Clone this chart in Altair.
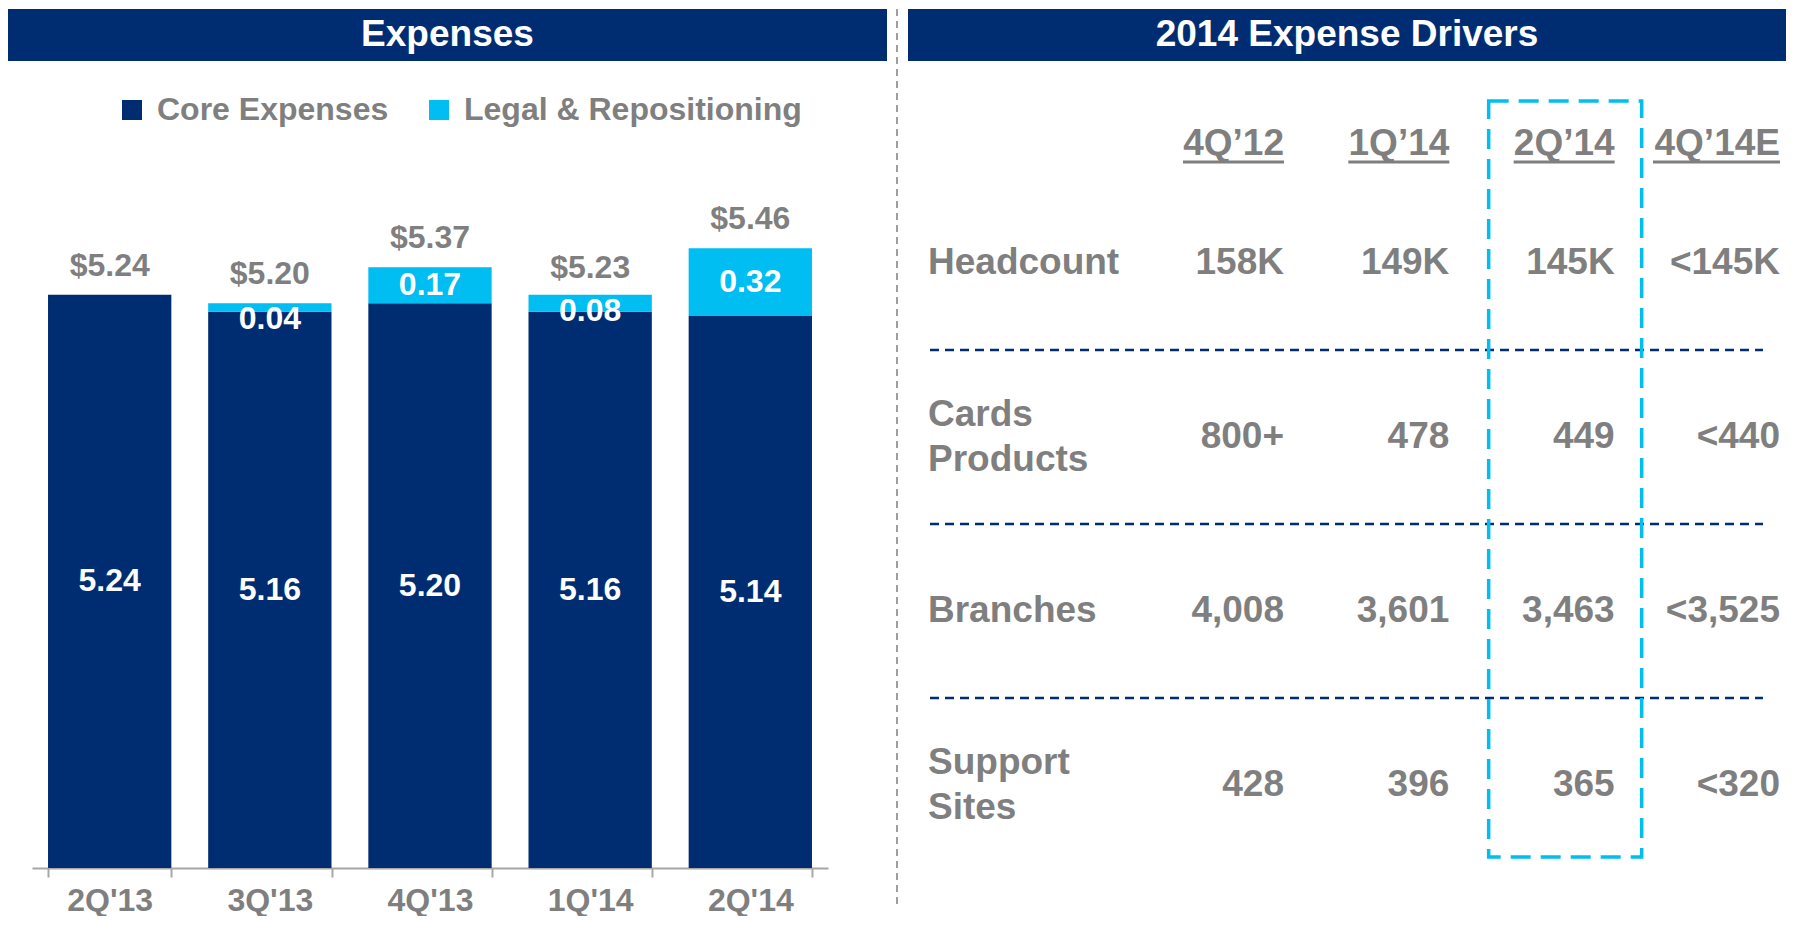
import altair as alt
import pandas as pd

# ---------------- data ----------------
quarters = ["2Q'13", "3Q'13", "4Q'13", "1Q'14", "2Q'14"]
core = [5.24, 5.16, 5.20, 5.16, 5.14]
legal = [0.00, 0.04, 0.17, 0.08, 0.32]
totals = [5.24, 5.20, 5.37, 5.23, 5.46]
series_names = ["Core Expenses", "Legal & Repositioning"]

table_cols = ["4Q’12", "1Q’14", "2Q’14", "4Q’14E"]
table_rows = ["Headcount", "Cards\nProducts", "Branches", "Support\nSites"]
headcount = ["158K", "149K", "145K", "<145K"]
cards = ["800+", "478", "449", "<440"]
branches = ["4,008", "3,601", "3,463", "<3,525"]
sites = ["428", "396", "365", "<320"]
highlight_col = "2Q’14"

left_title = "Expenses"
right_title = "2014 Expense Drivers"

# ---------------- style ----------------
NAVY = "#002D72"
LIGHT = "#00BDF2"
GRAY = "#7F7F7F"
AXGRAY = "#A6A6A6"
FONT = "Liberation Sans, Arial, sans-serif"
Y_MIN, Y_MAX = 2.536, 6.588
PLOT_H = 859
PX_PER_UNIT = PLOT_H / (Y_MAX - Y_MIN)
LBL_MIN_GAP = 16 / PX_PER_UNIT  # keep small-segment labels below the segment top

# ---------------- left: stacked bars ----------------
bar_rows = []
for q, c, l in zip(quarters, core, legal):
    bar_rows.append({"quarter": q, "series": series_names[0], "value": c, "start": 0.0, "end": c})
    bar_rows.append({"quarter": q, "series": series_names[1], "value": l, "start": c, "end": c + l})
bars_df = pd.DataFrame(bar_rows)
tot_df = pd.DataFrame({"quarter": quarters, "total": totals})
ltitle_df = pd.DataFrame({"t": [left_title]})

X = alt.X(
    "quarter:N",
    sort=quarters,
    scale=alt.Scale(domain=quarters, paddingInner=0.23, paddingOuter=0.1),
    axis=alt.Axis(
        title=None, labelAngle=0, labelFont=FONT, labelFontSize=32, labelFontWeight="bold",
        labelColor=GRAY, domainColor=AXGRAY, domainWidth=2, tickColor=AXGRAY, tickWidth=2,
        tickSize=9, tickBand="extent", labelPadding=8, grid=False,
    ),
)
YS = alt.Scale(domain=[Y_MIN, Y_MAX], zero=False, nice=False, clamp=True)

bars = alt.Chart(bars_df).mark_bar().encode(
    x=X,
    y=alt.Y("end:Q", scale=YS, axis=None),
    y2="start:Q",
    color=alt.Color(
        "series:N",
        scale=alt.Scale(domain=series_names, range=[NAVY, LIGHT]),
        legend=alt.Legend(
            title=None, orient="none", legendX=84, legendY=85, direction="horizontal",
            symbolType="square", symbolSize=400, symbolStrokeWidth=0,
            labelFont=FONT, labelFontSize=32, labelFontWeight="bold", labelColor=GRAY,
            labelOffset=9, columnPadding=34, labelLimit=0,
        ),
    ),
)

core_lbl = alt.Chart(bars_df).transform_filter(
    alt.datum.series == series_names[0]
).transform_calculate(
    mid=f"({Y_MIN} + datum.end) / 2"
).mark_text(font=FONT, fontSize=32, fontWeight="bold", color="white", baseline="middle").encode(
    x=X, y=alt.Y("mid:Q", scale=YS, axis=None), text=alt.Text("value:Q", format=".2f")
)

legal_lbl = alt.Chart(bars_df).transform_filter(
    (alt.datum.series == series_names[1]) & (alt.datum.value > 0)
).transform_calculate(
    mid=f"min((datum.start + datum.end) / 2, datum.end - {LBL_MIN_GAP})"
).mark_text(font=FONT, fontSize=32, fontWeight="bold", color="white", baseline="middle").encode(
    x=X, y=alt.Y("mid:Q", scale=YS, axis=None), text=alt.Text("value:Q", format=".2f")
)

tot_lbl = alt.Chart(tot_df).transform_calculate(
    lbl="'$' + format(datum.total, '.2f')"
).mark_text(font=FONT, fontSize=32, fontWeight="bold", color=GRAY, baseline="middle", dy=-29).encode(
    x=X, y=alt.Y("total:Q", scale=YS, axis=None), text="lbl:N"
)

lhead = alt.Chart(ltitle_df).mark_rect(color=NAVY).encode(
    x=alt.value(-24), x2=alt.value(855), y=alt.value(0), y2=alt.value(52)
)
lhead_txt = alt.Chart(ltitle_df).mark_text(
    font=FONT, fontSize=37, fontWeight="bold", color="white", baseline="middle", align="center"
).encode(x=alt.value(415.5), y=alt.value(26), text="t:N")

left = alt.layer(lhead, lhead_txt, bars, core_lbl, legal_lbl, tot_lbl).properties(width=796, height=PLOT_H)

# ---------------- right: table ----------------
cells = []
for r, vals in zip(table_rows, [headcount, cards, branches, sites]):
    for c, v in zip(table_cols, vals):
        cells.append({"row": r, "col": c, "val": v})
cells_df = pd.DataFrame(cells)
rows_df = pd.DataFrame({"row": table_rows})
cols_df = pd.DataFrame({"col": table_cols})
rtitle_df = pd.DataFrame({"t": [right_title]})

XS = alt.Scale(domain=table_cols, type="point", padding=0)
RS = alt.Scale(domain=table_rows, type="band", paddingInner=0, paddingOuter=0.48, align=1)
XC = alt.X("col:N", scale=XS, axis=None)
YR = alt.Y("row:N", scale=RS, axis=None)

txt_style = dict(font=FONT, fontSize=37, fontWeight="bold", color=GRAY, baseline="middle")

values = alt.Chart(cells_df).mark_text(align="right", **txt_style).encode(x=XC, y=YR, text="val:N")
row_lbl_1 = alt.Chart(rows_df).transform_filter(
    "indexof(datum.row, '\\n') < 0"
).mark_text(align="left", **txt_style).encode(
    x=alt.value(-356), y=YR, text="row:N"
)
row_lbl_2 = alt.Chart(rows_df).transform_filter(
    "indexof(datum.row, '\\n') >= 0"
).mark_text(align="left", lineBreak="\n", lineHeight=45, dy=-22.5, **txt_style).encode(
    x=alt.value(-356), y=YR, text="row:N"
)
col_hdr = alt.Chart(cols_df).mark_text(align="right", **txt_style).encode(
    x=XC, y=alt.value(135), text="col:N"
)
underline_a = alt.Chart(cols_df).transform_filter(
    alt.datum.col != table_cols[-1]
).mark_rule(color=GRAY, strokeWidth=3, xOffset=-101).encode(
    x=XC, x2=alt.X2("col:N"), y=alt.value(153)
)
underline_b = alt.Chart(cols_df).transform_filter(
    alt.datum.col == table_cols[-1]
).mark_rule(color=GRAY, strokeWidth=3, xOffset=-127).encode(
    x=XC, x2=alt.X2("col:N"), y=alt.value(153)
)
row_sep = alt.Chart(rows_df).transform_filter(
    alt.datum.row != table_rows[0]
).mark_rule(color=NAVY, strokeWidth=2.5, strokeDash=[9, 6]).encode(
    y=alt.Y("row:N", scale=RS, axis=None, bandPosition=0), x=alt.value(-354), x2=alt.value(479)
)
box = alt.Chart(cols_df).transform_filter(
    alt.datum.col == highlight_col
).mark_rect(filled=False, stroke=LIGHT, strokeWidth=3.5, strokeDash=[20, 10], xOffset=-126, x2Offset=27).encode(
    x=XC, x2=alt.X2("col:N"), y=alt.value(92), y2=alt.value(848)
)
vsep = alt.Chart(rtitle_df).mark_rule(color=GRAY, strokeWidth=1.5, strokeDash=[7, 5]).encode(
    x=alt.value(-387), y=alt.value(0), y2=alt.value(895)
)
rhead = alt.Chart(rtitle_df).mark_rect(color=NAVY).encode(
    x=alt.value(-376), x2=alt.value(502), y=alt.value(0), y2=alt.value(52)
)
rhead_txt = alt.Chart(rtitle_df).mark_text(
    font=FONT, fontSize=37, fontWeight="bold", color="white", baseline="middle", align="center"
).encode(x=alt.value(63), y=alt.value(26), text="t:N")

right = alt.layer(
    vsep, rhead, rhead_txt, row_sep, box, underline_a, underline_b, col_hdr, row_lbl_1, row_lbl_2, values
).properties(width=496, height=863)

chart = (
    alt.hconcat(left, right, spacing=9)
    .properties(padding=0)
    .configure(font=FONT)
    .configure_view(strokeWidth=0, stroke="transparent")
)

chart.save("out.html", embed_options={"renderer": "svg", "actions": False})
